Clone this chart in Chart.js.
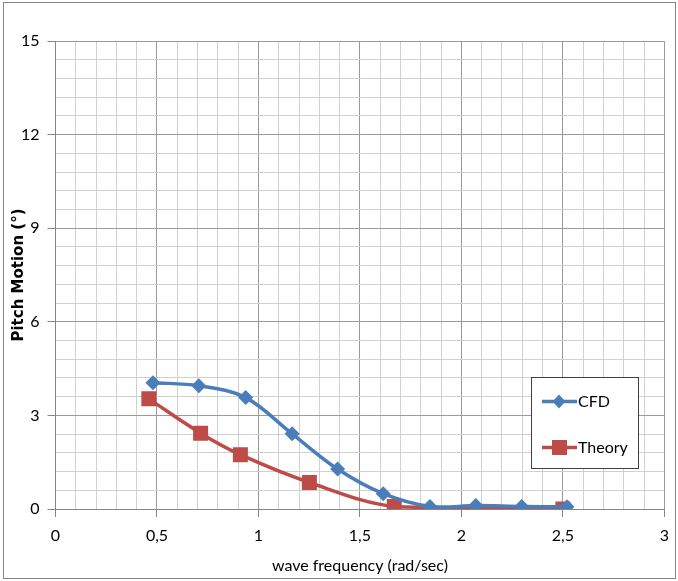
<!DOCTYPE html>
<html>
<head>
<meta charset="utf-8">
<script src="https://cdn.jsdelivr.net/npm/chart.js@4/dist/chart.umd.min.js"></script>
<style>
  html, body { margin: 0; padding: 0; background: #fff; }
  #wrap { width: 678px; height: 581px; position: relative; }
</style>
</head>
<body>
<div id="wrap"><canvas id="myChart" width="678" height="581"></canvas></div>
<script>
// values
var cfdFreq = [0.48, 0.706, 0.937, 1.166, 1.39, 1.615, 1.845, 2.071, 2.297, 2.52];
var cfdPitch = [4.05, 3.95, 3.57, 2.41, 1.28, 0.49, 0.08, 0.11, 0.08, 0.07];
var theoryFreq = [0.46, 0.715, 0.911, 1.251, 1.669, 2.5];
var theoryPitch = [3.53, 2.43, 1.74, 0.85, 0.08, 0.0];
var seriesNames = ["CFD", "Theory"];
var seriesColors = ["#4a7ebb", "#be4b48"];

var FONT = "Lato, 'Open Sans', sans-serif";

function toPoints(xs, ys) {
  return xs.map(function (x, i) { return { x: x, y: ys[i] }; });
}
function isMultiple(v, step) {
  return Math.abs(v / step - Math.round(v / step)) < 1e-6;
}

// white background + outer frame + legend box
var frame = {
  id: "frame",
  beforeDraw: function (chart) {
    var ctx = chart.ctx;
    ctx.save();
    ctx.fillStyle = "#fff";
    ctx.fillRect(0, 0, chart.width, chart.height);
    ctx.strokeStyle = "#868686";
    ctx.lineWidth = 1;
    ctx.strokeRect(3.5, 2.5, 672, 576);
    ctx.restore();
  },
  afterDraw: function (chart) {
    var ctx = chart.ctx;
    ctx.save();
    ctx.fillStyle = "#fff";
    ctx.fillRect(531, 377, 108, 92);
    ctx.strokeStyle = "#404040";
    ctx.lineWidth = 1;
    ctx.strokeRect(531.5, 377.5, 107, 91);

    var rows = [401.5, 447.5];
    ctx.font = "16px " + FONT;
    ctx.textBaseline = "middle";
    for (var i = 0; i < 2; i++) {
      var y = rows[i];
      ctx.strokeStyle = seriesColors[i];
      ctx.lineWidth = 3.5;
      ctx.beginPath();
      ctx.moveTo(542, y);
      ctx.lineTo(577, y);
      ctx.stroke();
      ctx.fillStyle = seriesColors[i];
      ctx.beginPath();
      if (i === 0) {
        ctx.moveTo(559, y - 7);
        ctx.lineTo(565.5, y);
        ctx.lineTo(559, y + 7);
        ctx.lineTo(552.5, y);
        ctx.closePath();
      } else {
        ctx.rect(552, y - 7.5, 15, 15);
      }
      ctx.fill();
      ctx.fillStyle = "#000";
      ctx.fillText(seriesNames[i], 578, y);
    }
    ctx.restore();
  }
};

var ctx = document.getElementById("myChart");
var myChart = new Chart(ctx, {
  type: "scatter",
  data: {
    datasets: [
      {
        label: seriesNames[0],
        data: toPoints(cfdFreq, cfdPitch),
        showLine: true,
        borderColor: seriesColors[0],
        backgroundColor: seriesColors[0],
        borderWidth: 3.5,
        tension: 0.35,
        pointStyle: "rectRot",
        pointRadius: 7.5,
        pointBorderWidth: 0
      },
      {
        label: seriesNames[1],
        data: toPoints(theoryFreq, theoryPitch),
        showLine: true,
        borderColor: seriesColors[1],
        backgroundColor: seriesColors[1],
        borderWidth: 3.5,
        tension: 0.35,
        pointStyle: "rect",
        pointRadius: 10.6,
        pointBorderWidth: 0
      }
    ]
  },
  options: {
    responsive: false,
    animation: false,
    layout: { padding: { top: 41, right: 12, left: 0, bottom: 0 } },
    plugins: {
      legend: { display: false },
      tooltip: { enabled: false }
    },
    scales: {
      x: {
        type: "linear",
        min: 0,
        max: 3,
        afterFit: function (scale) { scale.height = 72; },
        border: { color: "#868686", width: 1 },
        grid: {
          color: function (c) { return isMultiple(c.tick.value, 0.5) ? "#9a9a9a" : "#d0d0d0"; },
          tickColor: function (c) { return isMultiple(c.tick.value, 0.5) ? "#868686" : "rgba(0,0,0,0)"; },
          tickLength: 8
        },
        ticks: {
          stepSize: 0.1,
          autoSkip: false,
          maxRotation: 0,
          padding: 9,
          color: "#000",
          font: { family: FONT, size: 16 },
          callback: function (v) {
            if (!isMultiple(v, 0.5)) return "";
            return String(Math.round(v * 10) / 10).replace(".", ",");
          }
        },
        title: {
          display: true,
          text: "wave frequency (rad/sec)",
          color: "#000",
          font: { family: FONT, size: 16 },
          padding: { top: 4, bottom: 6 }
        }
      },
      y: {
        type: "linear",
        min: 0,
        max: 15,
        afterFit: function (scale) { scale.width = 55.5; },
        border: { color: "#868686", width: 1 },
        grid: {
          color: function (c) { return isMultiple(c.tick.value, 3) ? "#9a9a9a" : "#d0d0d0"; },
          tickColor: function (c) { return isMultiple(c.tick.value, 3) ? "#868686" : "rgba(0,0,0,0)"; },
          tickLength: 8
        },
        ticks: {
          stepSize: 0.6,
          autoSkip: false,
          maxTicksLimit: 100,
          padding: 8,
          color: "#000",
          font: { family: FONT, size: 16 },
          callback: function (v) {
            if (!isMultiple(v, 3)) return "";
            return String(Math.round(v));
          }
        },
        title: {
          display: true,
          text: "Pitch Motion (°)",
          color: "#000",
          font: { family: "'DejaVu Sans', sans-serif", size: 15, weight: "bold" },
          padding: { top: 10, bottom: 2 }
        }
      }
    }
  },
  plugins: [frame]
});
</script>
</body>
</html>
